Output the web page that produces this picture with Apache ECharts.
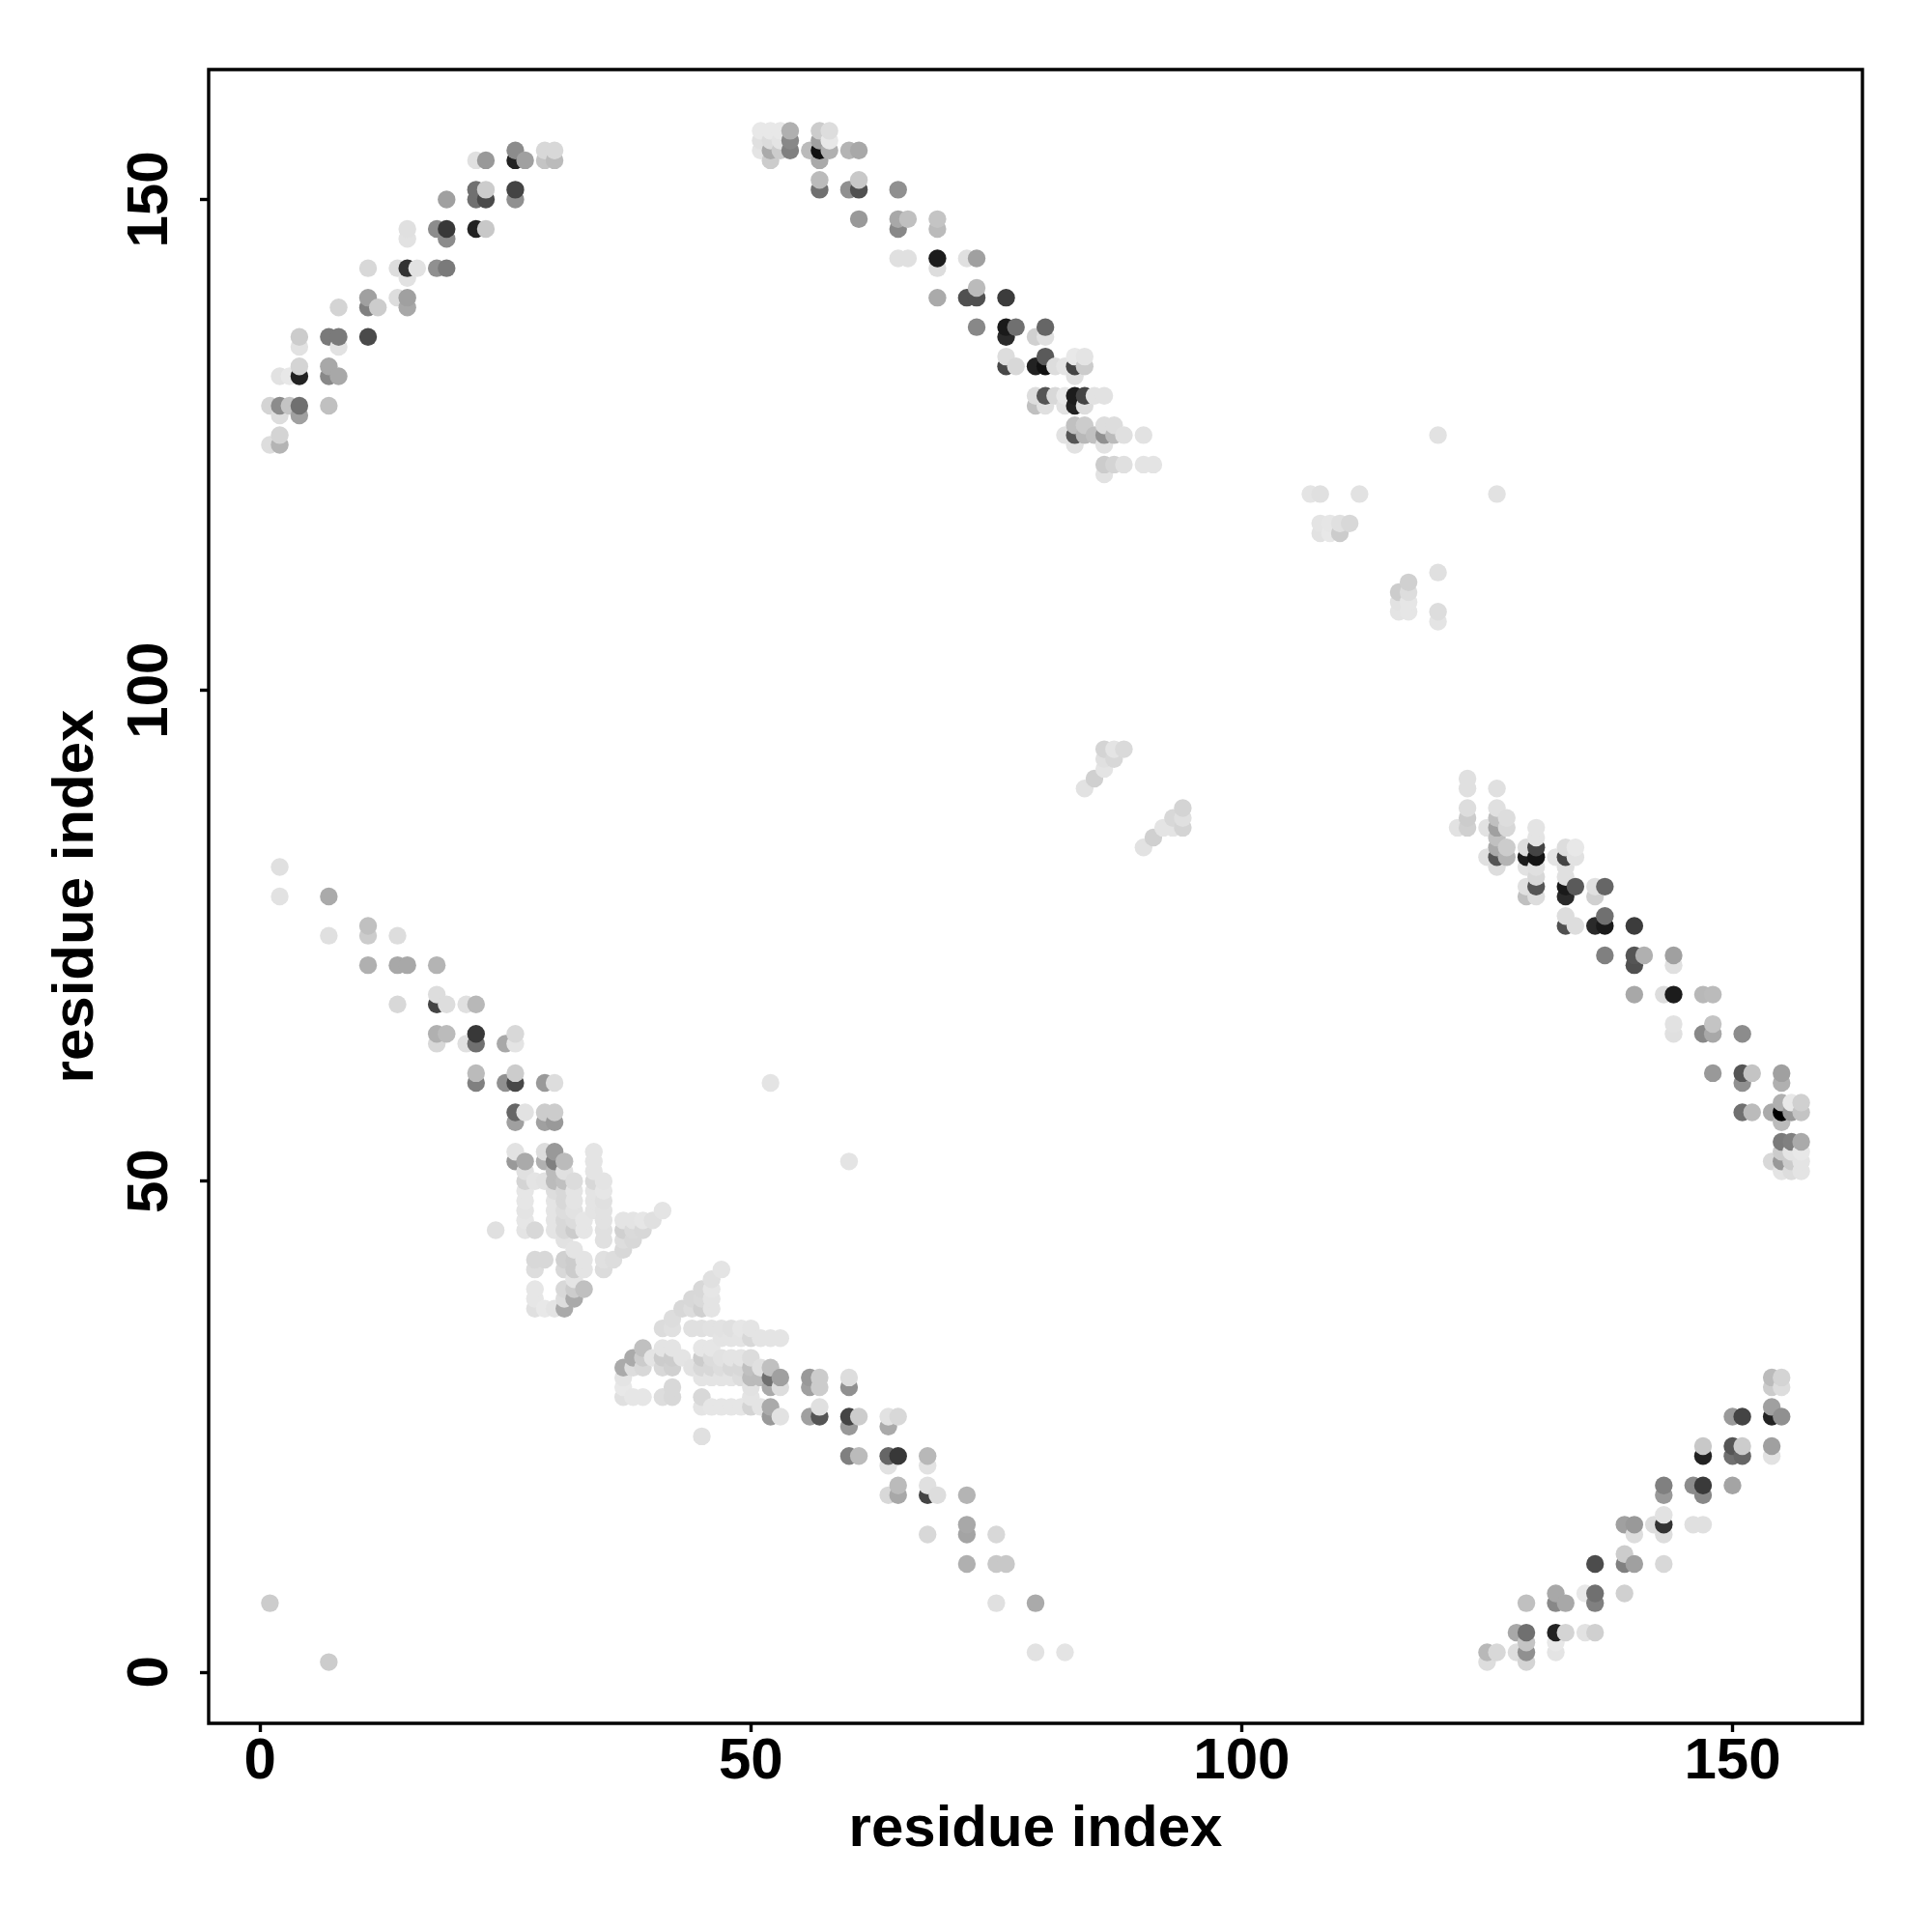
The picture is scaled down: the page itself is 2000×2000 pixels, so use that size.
<!DOCTYPE html>
<html><head><meta charset="utf-8">
<script src="https://cdn.jsdelivr.net/npm/echarts@6/dist/echarts.min.js"></script>
<style>html,body{margin:0;background:#fff}#c{width:2000px;height:2000px}</style></head>
<body><div id="c"></div>
<script>
// [residue x, residue y, grey level]
const topLeft=[[1,129,0xd4],[1,125,0xdd],[2,132,0xe2],[2,129,0x8c],[2,128,0xdd],[2,126,0xd4],[2,125,0xb4],[3,132,0xe8],[3,129,0xc4],
[4,136,0xcc],[4,135,0xe2],[4,133,0xd4],[4,132,0x22],[4,129,0x70],[4,128,0xa0],[7,136,0x7a],[7,133,0xa8],[7,132,0x88],[7,129,0xc0],
[8,139,0xd4],[8,136,0x7a],[8,135,0xe2],[8,132,0xa8],[11,143,0xd8],[11,140,0xa0],[11,139,0x80],[11,136,0x4a],[12,139,0xcc],
[14,143,0xdd],[14,140,0xdd],[15,147,0xe0],[15,146,0xe2],[15,143,0x33],[15,142,0xe2],[15,140,0xa0],[15,139,0xa8],[16,143,0xe2],
[18,147,0x8c],[18,143,0x90],[19,150,0xa0],[19,147,0x38],[19,146,0x8c],[19,143,0x7a],[22,154,0xe0],[22,151,0x70],[22,150,0x70],[22,147,0x22],
[23,154,0x99],[23,151,0xcc],[23,150,0x4a],[23,147,0xc8],[26,155,0x8c],[26,154,0x22],[26,151,0x44],[26,150,0x90],[27,154,0xa0],
[29,155,0xd8],[29,154,0xc4],[30,155,0xd8],[30,154,0xbb]];
const bottomRight=[[125,2,0xb8],[125,1,0xdd],[126,2,0xd8],[128,4,0xa8],[128,2,0xdd],[129,7,0xc0],[129,4,0x70],[129,3,0xc4],[129,2,0x90],[129,1,0xd4],
[132,8,0xa8],[132,7,0x88],[132,4,0x22],[132,3,0xe8],[132,2,0xe4],[133,7,0xa8],[133,4,0xd4],[135,8,0xe8],[135,4,0xe2],[136,11,0x4c],[136,8,0x70],[136,7,0x80],[136,4,0xd0],
[139,12,0xcc],[139,11,0x80],[139,8,0xd0],[139,15,0xa0],[140,15,0x99],[140,14,0xdd],[140,11,0xa0],[142,15,0xdd],[143,19,0x80],[143,18,0x99],[143,16,0xe2],[143,15,0x33],[143,14,0xdd],[143,11,0xd8],
[146,19,0x8c],[146,15,0xe0],[147,23,0xc8],[147,22,0x22],[147,19,0x3a],[147,18,0x88],[147,15,0xe0],[150,26,0x9a],[150,23,0x55],[150,22,0x70],[150,19,0xa4],
[151,26,0x44],[151,23,0xcc],[151,22,0x66],[154,30,0xbb],[154,29,0xcc],[154,27,0xa0],[154,26,0x22],[154,23,0xa0],[154,22,0xe2],[155,30,0xd4],[155,29,0xdd],[155,26,0x90]];
const topMiddle=[[51,157,0xe8],[51,156,0xe0],[51,155,0xe4],[52,157,0xe8],[52,156,0xdc],[52,155,0xaa],[52,154,0xcc],[53,157,0xe8],[53,156,0xe4],[53,155,0xcc],
[54,157,0xb0],[54,156,0x88],[54,155,0x80],[56,155,0xbb],[57,157,0xcc],[57,156,0xa0],[57,155,0x11],[57,154,0xaa],[57,152,0xbb],[57,151,0x70],
[58,157,0xdd],[58,156,0xe8],[58,155,0xb0],[60,155,0xb4],[60,151,0x90],[61,155,0xa8],[61,152,0xc8],[61,151,0x50],[61,148,0x99],
[65,151,0x90],[65,148,0xa8],[65,147,0x88],[65,144,0xe0],[66,148,0xc0],[66,144,0xe0],[69,148,0xc4],[69,147,0xbb],[69,144,0x1c],[69,143,0xdd],[69,140,0xaa],
[72,144,0xe0],[72,140,0x50],[73,144,0xa0],[73,141,0xbb],[73,140,0x50],[73,137,0x88],[76,140,0x3c],[76,137,0x1a],[76,136,0x2a],[76,134,0xdd],[76,133,0x48],
[77,137,0x70],[77,133,0xd8],[79,136,0xd0],[79,133,0x22],[79,130,0xdd],[79,129,0xc0],[80,137,0x66],[80,136,0xe0],[80,134,0x5a],[80,133,0x11],[80,130,0x55],[80,129,0xe0],
[81,133,0xdd],[81,130,0xd8],[82,133,0xe4],[82,130,0xe8],[82,129,0xe2],[82,126,0xe2],[83,134,0xe8],[83,133,0x44],[83,132,0xe0],[83,130,0x1c],[83,129,0x22],[83,127,0xc0],[83,126,0x55],[83,125,0xe2],
[84,134,0xe4],[84,133,0xcc],[84,130,0x44],[84,129,0xdd],[84,127,0xcc],[84,126,0xb8],[85,130,0xe2],[85,126,0xc0],[86,130,0xe2],[86,127,0xdd],[86,126,0x90],[86,125,0xe2],[86,123,0xcc],[86,122,0xe2],
[87,127,0xdd],[87,126,0xbb],[87,123,0xd4],[88,126,0xe0],[88,123,0xe0],[90,126,0xe2],[90,123,0xe4],[91,123,0xe4]];
const rightSide=[[122,86,0xe2],[123,91,0xe0],[123,90,0xe0],[123,88,0xdd],[123,87,0xcc],[123,86,0xd0],[125,86,0xe2],[125,83,0xe0],
[126,90,0xe0],[126,88,0xe0],[126,87,0xc0],[126,86,0xa0],[126,85,0xc0],[126,84,0xaa],[126,83,0x55],[126,82,0xdd],[127,87,0xdd],[127,86,0xd8],[127,84,0xcc],[127,83,0xb4],
[129,84,0xdd],[129,83,0x1c],[129,82,0xe2],[129,80,0xe0],[129,79,0xc0],[130,86,0xe4],[130,85,0xe4],[130,84,0x44],[130,83,0x14],[130,82,0xe0],[130,81,0xd8],[130,80,0x55],[130,79,0xdd],
[132,83,0xe4],[133,84,0xdd],[133,83,0x44],[133,82,0xe0],[133,81,0xe0],[133,80,0x1a],[133,79,0x2a],[133,77,0xdd],[133,76,0x50],[134,84,0xe8],[134,83,0xe2],[134,80,0x5a],[134,76,0xdd],
[136,80,0xe0],[136,79,0xd0],[136,76,0x2a],[137,80,0x66],[137,77,0x70],[137,76,0x1a],[137,73,0x80],[140,76,0x3c],[140,73,0x55],[140,72,0x50],[140,69,0xa8],[141,73,0xb0],
[143,69,0xdd],[144,73,0xa0],[144,72,0xe0],[144,69,0x1c],[144,66,0xe2],[144,65,0xe0],[147,69,0xb8],[147,65,0x88],[148,69,0xbb],[148,66,0xc4],[148,65,0xa8],[148,61,0x99],
[151,65,0x8c],[151,61,0x55],[151,60,0x90],[151,57,0x70],[152,61,0xc4],[152,57,0xbb],[154,57,0xaa],[154,52,0xd8],[155,61,0xa0],[155,60,0xb0],[155,58,0xb0],[155,57,0x00],[155,56,0xbb],
[155,54,0x7a],[155,53,0xcc],[155,52,0x99],[155,51,0xe4],[156,58,0xe8],[156,57,0x99],[156,54,0x80],[156,53,0xe4],[156,52,0xcc],[156,51,0xdd],[157,58,0xd0],[157,57,0xc4],[157,54,0xaa],[157,53,0xe8],[157,52,0xe4],[157,51,0xe4]];
const centreUpper=[[107,120,0xe4],[108,120,0xe0],[112,120,0xe2],[126,120,0xe2],[120,126,0xe2],[108,117,0xe4],[108,116,0xe2],[109,117,0xe6],[109,116,0xe8],[110,117,0xe0],[110,116,0xcc],[111,117,0xd8],
[120,112,0xe0],[117,111,0xd0],[116,110,0xcc],[117,110,0xdd],[116,109,0xe2],[116,108,0xe4],[117,109,0xe6],[117,108,0xe6],[120,108,0xdd],[120,107,0xe4]];
const centreLower=[[84,90,0xe2],[85,91,0xd0],[86,92,0xe4],[86,94,0xd4],[86,93,0xe0],[87,94,0xe4],[87,93,0xd8],[88,94,0xda],
[90,84,0xe2],[91,85,0xd0],[92,86,0xe4],[93,87,0xd8],[94,88,0xd4],[94,87,0xe0],[94,86,0xd4],[93,86,0xe4]];
const leftDiagonal=[[2,82,0xe0],[2,79,0xe2],[7,79,0xaa],[7,75,0xe0],[11,76,0xc0],[11,75,0xcc],[14,75,0xdd],[11,72,0xb0],[14,72,0xa8],[15,72,0xa8],[18,72,0xb4],
[18,69,0xdd],[14,68,0xd8],[18,68,0x44],[19,68,0xdd],[21,68,0xe0],[22,68,0xb8],[18,65,0xb0],[19,65,0xbb],[22,65,0x38],[26,65,0xd8],[18,64,0xd8],[21,64,0xe0],[22,64,0x70],[25,64,0xa8],[26,64,0xe4],
[22,61,0xbb],[26,61,0xcc],[22,60,0x80],[25,60,0x90],[26,60,0x48],[29,60,0x99],[30,60,0xdd],[26,57,0x66],[27,57,0xe2],[29,57,0xcc],[30,57,0xcc],[26,56,0xa0],[29,56,0xa0],[30,56,0x99],
[26,53,0xe2],[26,52,0x99],[27,52,0xaa],[29,53,0xdd],[29,52,0xb0],[30,53,0x99],[30,52,0x80],[31,52,0xbb]];
const leftDense=[[24,45,0xe0],[27,51,0xe0],[27,50,0xd4],[27,49,0xe6],[27,48,0xe6],[27,47,0xe4],[27,46,0xe6],[27,45,0xe4],[28,50,0xe4],[28,45,0xd8],[28,42,0xd8],[28,41,0xdd],[28,39,0xe6],[28,38,0xe6],[28,37,0xe0],
[29,50,0xe2],[29,42,0xd8],[29,37,0xe8],[30,51,0xbb],[30,50,0xbb],[30,49,0xdd],[30,48,0xe4],[30,47,0xe4],[30,46,0xe4],[30,45,0xe4],[30,37,0xe4],
[31,51,0xe0],[31,50,0xc0],[31,49,0xd8],[31,48,0xd8],[31,47,0xdd],[31,46,0xd8],[31,45,0xd8],[31,44,0xe2],[31,42,0xd0],[31,41,0xd8],[31,39,0xd8],[31,38,0xdd],[31,37,0xaa],
[32,50,0xdc],[32,49,0xe4],[32,48,0xe4],[32,47,0xe2],[32,46,0xdc],[32,45,0xcc],[32,43,0xe4],[32,42,0xcc],[32,41,0xcc],[32,40,0xe4],[32,39,0xcc],[32,38,0xaa],
[33,46,0xe6],[33,45,0xe6],[33,42,0xe4],[33,41,0xe4],[33,39,0xc0],[34,53,0xe4],[34,52,0xe4],[34,51,0xe4],[34,50,0xd8],[34,49,0xe4],[34,48,0xe4],[34,47,0xe4],
[35,50,0xe4],[35,49,0xe6],[35,48,0xe0],[35,47,0xe2],[35,46,0xe2],[35,45,0xe0],[35,44,0xe0],[35,42,0xe0],[35,41,0xdc],[36,42,0xdd],
[37,46,0xe4],[37,45,0xd0],[37,44,0xdd],[37,43,0xd8],[38,46,0xe4],[38,45,0xda],[38,44,0xd8],[39,46,0xe6],[39,45,0xd8],[40,46,0xe0],[41,47,0xe4]];
const bottomDense=[[47,41,0xe4],[46,40,0xe0],[46,39,0xe6],[45,39,0xd8],[46,38,0xe4],[44,38,0xd8],[45,38,0xda],[43,37,0xd8],[44,37,0xdd],[45,37,0xd0],[46,37,0xe4],[42,36,0xdd],
[41,35,0xdc],[42,35,0xe0],[44,35,0xe0],[45,35,0xe0],[46,35,0xe2],[47,35,0xe2],[48,35,0xe0],[49,35,0xe6],[50,35,0xe4],
[47,34,0xe4],[48,34,0xe4],[49,34,0xe4],[50,34,0xd8],[51,34,0xe4],[52,34,0xe4],[53,34,0xe4],
[39,33,0xc0],[41,33,0xe4],[42,33,0xe4],[45,33,0xe6],[46,33,0xe6],
[38,32,0xaa],[39,32,0xcc],[40,32,0xe4],[41,32,0xcc],[42,32,0xcc],[43,32,0xe4],[45,32,0xcc],[46,32,0xdc],[47,32,0xe2],[48,32,0xe4],[49,32,0xe4],[50,32,0xdc],
[37,31,0xaa],[38,31,0xdd],[39,31,0xd8],[41,31,0xd8],[42,31,0xd0],[44,31,0xe2],[45,31,0xd8],[46,31,0xd8],[47,31,0xdd],[48,31,0xd8],[49,31,0xd8],[50,31,0xc0],[51,31,0xe0],[52,31,0xc0],
[37,30,0xe4],[45,30,0xe4],[46,30,0xe4],[47,30,0xe4],[48,30,0xe4],[49,30,0xdd],[50,30,0xbb],[51,30,0xbb],[52,30,0x70],[53,30,0xa0],[56,30,0x99],[57,30,0xcc],
[37,29,0xe8],[42,29,0xd8],[50,29,0xe2],[52,29,0xaa],[53,29,0xdd],[56,29,0xa0],[57,29,0xcc],
[37,28,0xe0],[38,28,0xe6],[39,28,0xe6],[41,28,0xdd],[42,28,0xd8],[45,28,0xd8],[50,28,0xe4],
[45,27,0xe4],[46,27,0xe6],[47,27,0xe6],[48,27,0xe6],[49,27,0xe6],[50,27,0xd4],[51,27,0xe4],[52,27,0xaa],[57,27,0xe0],
[52,26,0x99],[53,26,0xe2],[56,26,0xa0],[57,26,0x55],[45,24,0xe0]];
const bottomDiagonal=[[60,30,0xdd],[60,29,0x90],[60,26,0x44],[61,26,0xcc],[60,25,0x99],[64,26,0xe2],[65,26,0xd8],[64,25,0xaa],
[60,22,0x80],[61,22,0xbb],[64,22,0x66],[65,22,0x38],[68,22,0xb8],[64,21,0xe2],[68,21,0xe2],[65,19,0xbb],[68,19,0xe0],[64,18,0xd8],[65,18,0xa8],[68,18,0x44],[69,18,0xdd],[72,18,0xb4],
[72,15,0xa8],[68,14,0xd8],[72,14,0xa4],[75,14,0xd8],[72,11,0xb0],[75,11,0xc8],[76,11,0xc8],[75,7,0xe0],[79,7,0xaa],[79,2,0xe2],[82,2,0xe4]];
const isolated=[[1,7,0xcc],[7,1,0xcc],[52,60,0xe4],[60,52,0xe4]];
const tickValues=[0,50,100,150];
const axisTitle='residue index';

const all=[].concat(topLeft,bottomRight,topMiddle,rightSide,centreUpper,centreLower,leftDiagonal,leftDense,bottomDense,bottomDiagonal,isolated);
all.sort((a,b)=>a[0]-b[0]||a[1]-b[1]);
const pts=all.map(p=>({value:[p[0],p[1]],itemStyle:{color:`rgb(${p[2]},${p[2]},${p[2]})`,opacity:1}}));
const font={fontFamily:'"Liberation Sans"',fontWeight:'bold',fontSize:60,color:'#000'};
const tick={show:true,length:9,customValues:tickValues,lineStyle:{color:'#000',width:3.4}};
const axisBase={type:'value',min:-5.24,max:163.24,splitLine:{show:false},
  axisLine:{show:false,onZero:false},axisTick:tick,
  name:axisTitle,nameLocation:'middle',nameTextStyle:font};
const chart=echarts.init(document.getElementById('c'),null,{renderer:'canvas'});
chart.setOption({animation:false,backgroundColor:'#fff',
 grid:{left:216,top:72,width:1712,height:1712,show:true,borderColor:'#000',borderWidth:3.4,backgroundColor:'#fff'},
 xAxis:Object.assign({},axisBase,{nameGap:80,
   axisLabel:Object.assign({},font,{margin:10,customValues:tickValues,formatter:v=>String(v)})}),
 yAxis:Object.assign({},axisBase,{nameGap:107,nameRotate:90,
   axisLabel:Object.assign({},font,{margin:30,rotate:90,customValues:tickValues,formatter:v=>String(v)})}),
 series:[{type:'scatter',symbol:'circle',symbolSize:18.4,data:pts,silent:true,clip:false}]
});
</script></body></html>
